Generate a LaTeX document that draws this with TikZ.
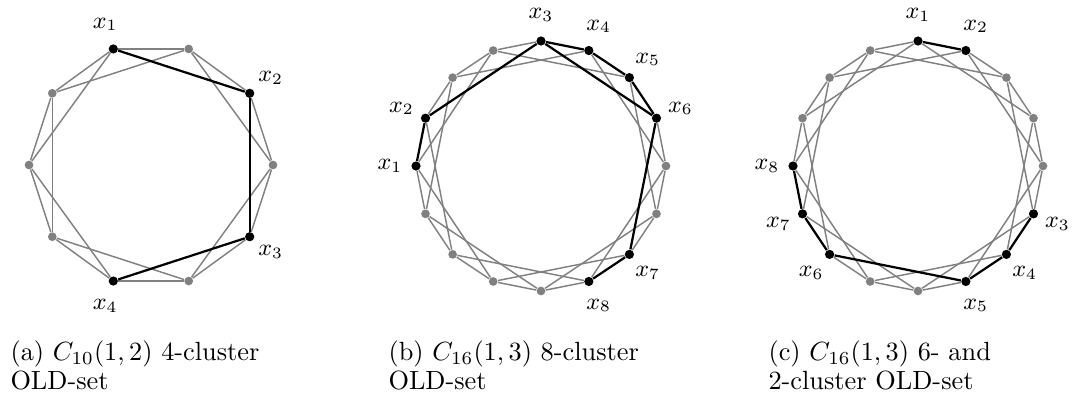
\documentclass[tikz,border=0pt]{standalone}
\tikzset{
  grayv/.style={circle,fill=gray,inner sep=0pt,minimum size=3.3pt},
  blackv/.style={circle,fill=black,inner sep=0pt,minimum size=3.5pt},
  grayedge/.style={draw=gray,line width=0.55pt},
  blackedge/.style={draw=black,line width=0.85pt},
  lab/.style={font=\small,inner sep=0pt},
  captext/.style={anchor=north west,align=left,inner sep=0pt,font=\fontsize{10}{11}\selectfont}
}
% #1 prefix, #2 n, #3 k, #4 cx, #5 cy, #6 r, #7 start angle, #8 black list
\newcommand\mycirc[8]{%
  \pgfmathtruncatemacro\nm{#2-1}%
  \foreach \i in {0,...,\nm}{%
    \pgfmathsetmacro\ang{#7-360/#2*\i}%
    \pgfmathtruncatemacro\bl{{#8}[\i]}%
    \ifnum\bl=1 \def\vst{blackv}\else\def\vst{grayv}\fi
    \node[\vst] (#1\i) at ({#4+#6*cos(\ang)},{#5-#6*sin(\ang)}) {};
  }%
  \foreach \i in {0,...,\nm}{%
    \foreach \s in {1,#3}{%
      \pgfmathtruncatemacro\j{mod(\i+\s,#2)}%
      \pgfmathtruncatemacro\bb{{#8}[\i]*{#8}[\j]}%
      \ifnum\bb=0 \draw[grayedge] (#1\i) -- (#1\j);\fi
    }%
  }%
  \foreach \i in {0,...,\nm}{%
    \foreach \s in {1,#3}{%
      \pgfmathtruncatemacro\j{mod(\i+\s,#2)}%
      \pgfmathtruncatemacro\bb{{#8}[\i]*{#8}[\j]}%
      \ifnum\bb=1 \draw[blackedge] (#1\i) -- (#1\j);\fi
    }%
  }%
}
% #1 prefix, #2 label number, #3 angle, #4 cx, #5 cy, #6 radius
\newcommand\mylab[6]{%
  \node[lab] (#1l#2) at ({#4+#6*cos(#3)},{#5-#6*sin(#3)}) {$x_{#2}$};%
}
\begin{document}
\begin{tikzpicture}[x=0.38pt,y=-0.38pt]
  \useasboundingbox (0,0) rectangle (1072,396);
  % (a)
  \mycirc{a}{10}{2}{151}{165}{122}{108}{1,0,1,0,1,0,1,0,0,0}
  \mylab{a}{1}{108}{151}{165}{148}
  \mylab{a}{2}{36}{151}{165}{148}
  \mylab{a}{3}{-36}{151}{165}{148}
  \mylab{a}{4}{-108}{151}{165}{148}
  % (b)
  \mycirc{b}{16}{3}{541}{166}{125}{90}{1,1,1,1,0,0,1,1,0,0,0,0,1,1,0,0}
  \mylab{b}{1}{180}{541}{166}{151}
  \mylab{b}{2}{157.5}{541}{166}{151}
  \mylab{b}{3}{90}{541}{166}{151}
  \mylab{b}{4}{67.5}{541}{166}{151}
  \mylab{b}{5}{45}{541}{166}{151}
  \mylab{b}{6}{22.5}{541}{166}{151}
  \mylab{b}{7}{-45}{541}{166}{151}
  \mylab{b}{8}{-67.5}{541}{166}{151}
  % (c)
  \mycirc{c}{16}{3}{918}{166}{125}{90}{1,1,0,0,0,1,1,1,0,0,1,1,1,0,0,0}
  \mylab{c}{1}{90}{918}{166}{151}
  \mylab{c}{2}{67.5}{918}{166}{151}
  \mylab{c}{3}{-22.5}{918}{166}{151}
  \mylab{c}{4}{-45}{918}{166}{151}
  \mylab{c}{5}{-67.5}{918}{166}{151}
  \mylab{c}{6}{-135}{918}{166}{151}
  \mylab{c}{7}{-157.5}{918}{166}{151}
  \mylab{c}{8}{180}{918}{166}{151}
  % captions
  \node[captext] (capa) at (10,340) {(a) $C_{10}(1,2)$ 4-cluster\\OLD-set};
  \node[captext] (capb) at (388,340) {(b) $C_{16}(1,3)$ 8-cluster\\OLD-set};
  \node[captext] (capc) at (768,340) {(c) $C_{16}(1,3)$ 6- and\\2-cluster OLD-set};
\end{tikzpicture}
\end{document}
